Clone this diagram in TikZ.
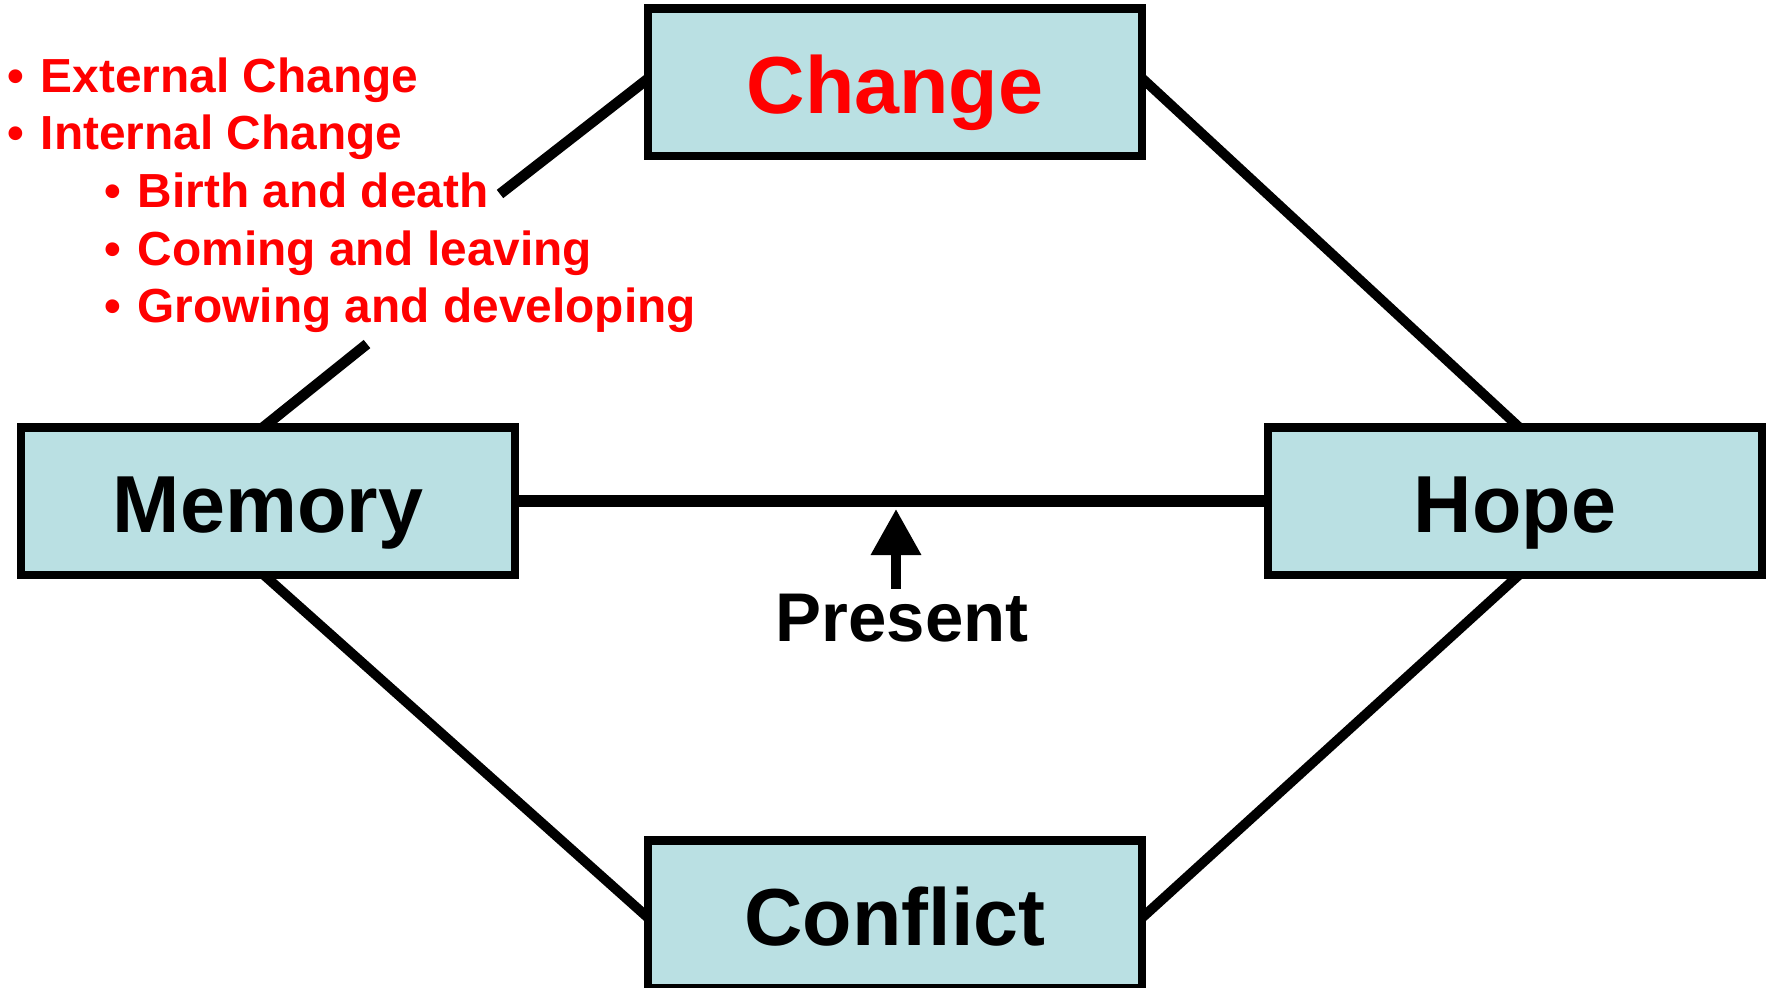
\documentclass[tikz,border=0pt]{standalone}
\usepackage{fontspec}
\setmainfont{Liberation Sans}
\usetikzlibrary{calc,arrows.meta,backgrounds}
\definecolor{boxfill}{RGB}{186,224,227}
\definecolor{listred}{RGB}{255,0,0}
\newcommand{\itm}[1]{\makebox[9.4pt][l]{\textbullet}#1}

\begin{document}
\begin{tikzpicture}[x=0.01cm,y=-0.01cm]
                      \tikzstyle{box}=[rectangle,draw=black,line width=2.3pt,fill=boxfill,minimum width=4.94cm,minimum height=1.47cm,inner sep=0pt,text height=18pt,text depth=0pt,font=\fontsize{23}{27}\selectfont\bfseries]
                      \tikzstyle{item}=[anchor=base west,inner sep=0pt,text=listred,font=\fontsize{13.6}{16}\selectfont\bfseries]
                      \tikzstyle{link}=[line width=2.8pt,shorten <=-4pt,shorten >=-4pt]
                      \useasboundingbox (0,0) rectangle (1769,987);
                      \clip (0,0) rectangle (1769,987);
                      \node[box,text=listred] (change) at (895,82) {Change};
                      \node[box] (memory) at (268,501) {Memory};
                      \node[box] (hope) at (1515,501) {Hope};
                      \node[box] (conflict) at (895,914) {Conflict};
                      \node[item] (ext) at (7,92) {\itm{External Change}};
                      \node[item] (int) at (7,149) {\itm{Internal Change}};
                      \node[item] (birth) at (104,207) {\itm{Birth and death}};
                      \node[item] (coming) at (104,265) {\itm{Coming and leaving}};
                      \node[item] (grow) at (104,322) {\itm{Growing and developing}};
                      \node[anchor=base,inner sep=0pt,font=\fontsize{19.6}{23}\selectfont\bfseries] (present) at (902,641) {Present};
                      \coordinate (c1) at (500,194);
                      \coordinate (c2) at (367,344);
                      \coordinate (now) at (896,509);
                      \begin{scope}[on background layer]
                      \draw[link,line width=3pt,shorten >=0pt] (change.west) -- (c1);
                      \draw[link,line width=3pt,shorten >=0pt] (memory.north) -- (c2);
                      \draw[link] (change.east) -- (hope.north);
                      \draw[link] (memory.south) -- (conflict.west);
                      \draw[link] (hope.south) -- (conflict.east);
                      \draw[link,line width=3.4pt] (memory.east) -- (hope.west);
                      \end{scope}
                      \draw[line width=2.8pt,-{Triangle[length=0.46cm,width=0.48cm]}] ($(now |- present.north)+(0,-4)$) -- (now);
                  \end{tikzpicture}
\end{document}
